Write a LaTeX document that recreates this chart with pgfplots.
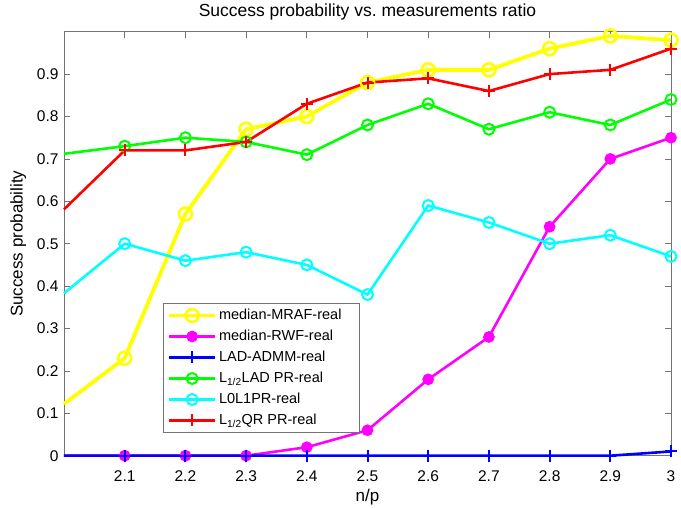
\documentclass[border=0pt]{standalone}
\usepackage{fontspec}
\setmainfont{Liberation Sans}
\usepackage{pgfplots}
\pgfplotsset{compat=1.18}
\definecolor{myyellow}{rgb}{1,1,0}
\definecolor{mymagenta}{rgb}{1,0,1}
\definecolor{myblue}{rgb}{0,0,1}
\definecolor{mygreen}{rgb}{0,1,0}
\definecolor{mycyan}{rgb}{0,1,1}
\definecolor{myred}{rgb}{1,0,0}
\begin{document}
\begin{tikzpicture}
\useasboundingbox (-64pt,-52pt) rectangle (617pt,455.7pt);
\begin{axis}[
  name=ax,
  at={(0,0)}, anchor=south west,
  scale only axis,
  width=607pt, height=424pt,
  xmin=2.0, xmax=3.0, ymin=0, ymax=1.0,
  xtick={2.1,2.2,2.3,2.4,2.5,2.6,2.7,2.8,2.9,3},
  xticklabels={2.1,2.2,2.3,2.4,2.5,2.6,2.7,2.8,2.9,3},
  ytick={0,0.1,0.2,0.3,0.4,0.5,0.6,0.7,0.8,0.9},
  yticklabels={0,0.1,0.2,0.3,0.4,0.5,0.6,0.7,0.8,0.9},
  tick align=inside,
  tick style={draw=black!55, line width=0.6pt},
  major tick length=6pt,
  axis line style={draw=black!55, line width=0.8pt},
  tick label style={font=\fontsize{15.5}{18}\selectfont},
  label style={font=\fontsize{17}{19}\selectfont},
  xlabel={n/p},
  ylabel={Success probability},
  xlabel style={at={(axis description cs:0.5,-0.0967)}, anchor=center},
  ylabel style={at={(axis description cs:-0.0753,0.5)}, anchor=center},
  title={Success probability vs.\ measurements ratio},
  title style={font=\fontsize{17.5}{20}\selectfont, at={(axis description cs:0.5,1.033)}, anchor=center},
  xticklabel style={yshift=-11pt},
  yticklabel style={xshift=-2pt},
  clip=false,
  legend cell align=left,
  legend style={at={(0.163,0.054)}, anchor=south west, draw=black!55, line width=0.6pt,
    font=\fontsize{14.5}{17}\selectfont, row sep=5pt, inner xsep=4pt, inner ysep=4pt},
  legend image code/.code={
    \draw[#1, mark indices={2}] plot coordinates {(0pt,0pt) (23pt,0pt) (46pt,0pt)};
  },
]
\addplot[color=myyellow, line width=3.8pt, mark=o, mark size=6.5pt, mark indices={2,3,4,5,6,7,8,9,10,11}, mark options={solid, line width=2.6pt}]
 coordinates {(2.0,0.122)(2.1,0.23)(2.2,0.57)(2.3,0.77)(2.4,0.80)(2.5,0.88)(2.6,0.91)(2.7,0.91)(2.8,0.96)(2.9,0.99)(3.0,0.98)};
\addlegendentry{median-MRAF-real\hspace*{12pt}}
\addplot[color=mymagenta, line width=2.6pt, mark=*, mark size=4.5pt, mark indices={2,3,4,5,6,7,8,9,10,11}, mark options={solid}]
 coordinates {(2.0,0)(2.1,0)(2.2,0)(2.3,0)(2.4,0.02)(2.5,0.06)(2.6,0.18)(2.7,0.28)(2.8,0.54)(2.9,0.70)(3.0,0.75)};
\addlegendentry{median-RWF-real}
\addplot[color=myblue, line width=2.6pt, mark=+, mark size=6pt, mark indices={2,3,4,5,6,7,8,9,10,11}, mark options={solid, line width=2pt}]
 coordinates {(2.0,0)(2.1,0)(2.2,0)(2.3,0)(2.4,0)(2.5,0)(2.6,0)(2.7,0)(2.8,0)(2.9,0)(3.0,0.01)};
\addlegendentry{LAD-ADMM-real}
\addplot[color=mygreen, line width=2.6pt, mark=o, mark size=5.5pt, mark indices={2,3,4,5,6,7,8,9,10,11}, mark options={solid, line width=2pt}]
 coordinates {(2.0,0.712)(2.1,0.73)(2.2,0.75)(2.3,0.74)(2.4,0.71)(2.5,0.78)(2.6,0.83)(2.7,0.77)(2.8,0.81)(2.9,0.78)(3.0,0.84)};
\addlegendentry{L\textsubscript{1/2}LAD PR-real}
\addplot[color=mycyan, line width=2.6pt, mark=o, mark size=5.5pt, mark indices={2,3,4,5,6,7,8,9,10,11}, mark options={solid, line width=2pt}]
 coordinates {(2.0,0.383)(2.1,0.50)(2.2,0.46)(2.3,0.48)(2.4,0.45)(2.5,0.38)(2.6,0.59)(2.7,0.55)(2.8,0.50)(2.9,0.52)(3.0,0.47)};
\addlegendentry{L0L1PR-real}
\addplot[color=myred, line width=2.6pt, mark=+, mark size=6pt, mark indices={2,3,4,5,6,7,8,9,10,11}, mark options={solid, line width=2pt}]
 coordinates {(2.0,0.581)(2.1,0.72)(2.2,0.72)(2.3,0.74)(2.4,0.83)(2.5,0.88)(2.6,0.89)(2.7,0.86)(2.8,0.90)(2.9,0.91)(3.0,0.96)};
\addlegendentry{L\textsubscript{1/2}QR PR-real}
\end{axis}
\end{tikzpicture}
\end{document}
